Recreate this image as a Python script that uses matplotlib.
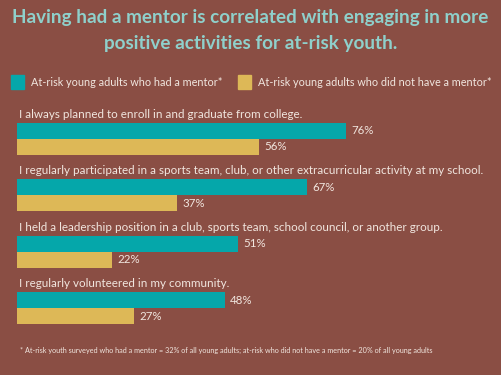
import matplotlib.pyplot as plt
import numpy as np

statements = [
    "I always planned to enroll in and graduate from college.",
    "I regularly participated in a sports team, club, or other extracurricular activity at my school.",
    "I held a leadership position in a club, sports team, school council, or another group.",
    "I regularly volunteered in my community.",
]
had_mentor = [76, 67, 51, 48]
no_mentor = [56, 37, 22, 27]
series_names = [
    "At-risk young adults who had a mentor*",
    "At-risk young adults who did not have a mentor*",
]

BG = "#8A4E44"
TEAL = "#05A7AA"
GOLD = "#DDB857"
TXT = "#F1E6DF"
TITLE = "#8FD0CB"

plt.rcParams["font.family"] = ["Lato", "DejaVu Sans"]

fig = plt.figure(figsize=(5.01, 3.75), dpi=100, facecolor=BG)
W, H = 501, 375

def fx(px):
    return px / W

def fy(py):
    return 1 - py / H

fig.text(0.5, fy(18), "Having had a mentor is correlated with engaging in more",
         ha="center", va="center", fontsize=13.6, fontweight="bold", color=TITLE)
fig.text(0.5, fy(44), "positive activities for at-risk youth.",
         ha="center", va="center", fontsize=13.6, fontweight="bold", color=TITLE)

# legend
for (x0, color, name) in [(11, TEAL, series_names[0]), (238, GOLD, series_names[1])]:
    fig.patches.append(plt.Rectangle((fx(x0), fy(89)), fx(13), 14 / H,
                                     transform=fig.transFigure, color=color))
    fig.text(fx(x0 + 20), fy(82), name, ha="left", va="center",
             fontsize=7.8, color=TXT)

# bars
ax = fig.add_axes([fx(17), fy(335), fx(484), 235 / H])
ax.set_facecolor(BG)
y = np.arange(len(statements))
h = 0.283
ax.barh(y - h / 2, had_mentor, height=h, color=TEAL)
ax.barh(y + h / 2, no_mentor, height=h, color=GOLD)
for i, s in enumerate(statements):
    ax.text(0.4, i - 0.44, s, ha="left", va="center", fontsize=8.35, color=TXT)
    ax.text(had_mentor[i] + 1.2, i - h / 2, f"{had_mentor[i]}%",
            ha="left", va="center", fontsize=8.3, color=TXT)
    ax.text(no_mentor[i] + 1.2, i + h / 2, f"{no_mentor[i]}%",
            ha="left", va="center", fontsize=8.3, color=TXT)
ax.set_xlim(0, 111.8)
ax.set_ylim(3.47, -0.69)
ax.axis("off")

fig.text(fx(20), fy(350),
         "* At-risk youth surveyed who had a mentor = 32% of all young adults; "
         "at-risk who did not have a mentor = 20% of all young adults",
         ha="left", va="center", fontsize=5.2, color=TXT)

fig.savefig("out.png", dpi=100, facecolor=BG)
